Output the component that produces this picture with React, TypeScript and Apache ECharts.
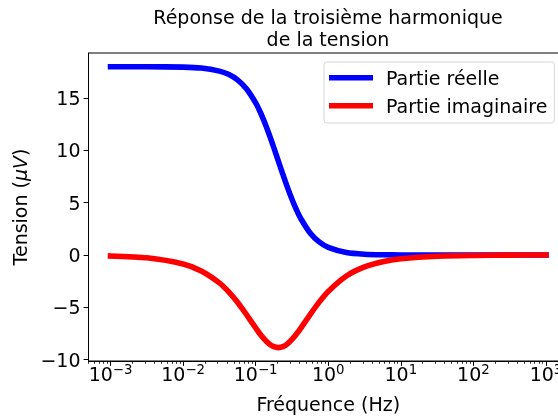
import React, { useEffect, useRef } from "react";
import * as echarts from "echarts";

const titleLines = ["Réponse de la troisième harmonique", "de la tension"];
const seriesNames = ["Partie réelle", "Partie imaginaire"];
const xAxisName = "Fréquence (Hz)";
const yAxisName = "Tension ({i|μV})";

// Frequencies (Hz) where the curves were read
const frequencies = [
  0.001, 0.00316, 0.01, 0.0178, 0.0316, 0.0422, 0.0562, 0.075, 0.1, 0.1155,
  0.1334, 0.154, 0.1778, 0.2054, 0.2371, 0.274, 0.3162, 0.365, 0.4217, 0.5623,
  0.75, 1, 1.778, 3.162, 5.623, 10, 31.6, 100, 316, 1000,
];
const realPart = [
  18.0, 18.0, 17.96, 17.87, 17.58, 17.27, 16.74, 15.87, 14.54, 13.67,
  12.64, 11.5, 10.27, 8.98, 7.7, 6.46, 5.33, 4.31, 3.44, 2.11,
  1.25, 0.73, 0.24, 0.075, 0.024, 0.008, 0.0, 0.0, 0.0, 0.0,
];
const imagPart = [
  -0.09, -0.27, -0.86, -1.52, -2.66, -3.5, -4.51, -5.71, -6.97, -7.57,
  -8.09, -8.5, -8.76, -8.85, -8.76, -8.49, -8.07, -7.55, -6.96, -5.69,
  -4.5, -3.48, -2.01, -1.14, -0.64, -0.36, -0.11, -0.04, -0.01, 0.0,
];

const xTickValues = [0.001, 0.01, 0.1, 1, 10, 100, 1000];
const xTickExponents = ["−3", "−2", "−1", "0", "1", "2", "3"];
const yTickValues = [-10, -5, 0, 5, 10, 15];
const yTickLabels = ["−10", "−5", "0", "5", "10", "15"];

export default function App() {
  const ref = useRef<HTMLDivElement>(null);
  useEffect(() => {
    document.body.style.overflow = "hidden";
    const chart = echarts.init(ref.current!, null, { renderer: "svg" });
    const font = "DejaVu Sans";
    const fs = 19;
    const minorTicks: number[] = [];
    for (let k = -4; k <= 3; k++) {
      for (let m = 2; m <= 9; m++) minorTicks.push(m * Math.pow(10, k));
    }
    const xMin = Math.pow(10, -3.3035);
    const xMax = Math.pow(10, 3.3035);
    chart.setOption({
      animation: false,
      textStyle: { fontFamily: font },
      title: {
        text: titleLines.join("\n"),
        left: 328,
        top: 6,
        textAlign: "center",
        padding: 0,
        textStyle: {
          fontSize: fs,
          fontWeight: "normal",
          color: "#000",
          lineHeight: 22,
          fontFamily: font,
        },
      },
      legend: {
        orient: "vertical",
        left: 324,
        top: 62,
        padding: [6.2, 7, 7.8, 5],
        itemWidth: 44,
        itemHeight: 5.5,
        itemGap: 9,
        icon: "rect",
        backgroundColor: "rgba(255,255,255,0.8)",
        borderColor: "#d6d6d6",
        borderWidth: 1,
        borderRadius: 3,
        textStyle: {
          fontSize: fs,
          lineHeight: 19,
          color: "#000",
          fontFamily: font,
          padding: [0, 0, 0, 8],
        },
        data: seriesNames,
      },
      grid: {
        left: 88.5,
        top: 53,
        width: 479.5,
        height: 308,
        show: true,
        borderColor: "#000",
        borderWidth: 1,
        containLabel: false,
        outerBoundsMode: "none",
      },
      xAxis: [
        {
          type: "log",
          logBase: 10,
          min: xMin,
          max: xMax,
          gridIndex: 0,
          position: "bottom",
          axisLine: { show: true, onZero: false, lineStyle: { color: "#000", width: 1 } },
          axisTick: {
            show: true,
            inside: false,
            length: 4.9,
            lineStyle: { color: "#000", width: 1 },
            customValues: xTickValues,
          },
          axisLabel: {
            customValues: xTickValues,
            margin: 2,
            color: "#000",
            formatter: (v: number) => {
              const i = Math.round(Math.log10(v)) + 3;
              return "{b|10}{s|" + (xTickExponents[i] ?? "") + "}";
            },
            rich: {
              b: {
                fontSize: fs,
                lineHeight: 20,
                padding: [7, 0, 0, 0],
                verticalAlign: "bottom",
                color: "#000",
                fontFamily: font,
              },
              s: {
                fontSize: 13.3,
                lineHeight: 14,
                verticalAlign: "top",
                color: "#000",
                fontFamily: font,
              },
            },
          },
          splitLine: { show: false },
          minorTick: { show: false },
          minorSplitLine: { show: false },
          name: xAxisName,
          nameLocation: "middle",
          nameGap: 33,
          nameTextStyle: { fontSize: fs, color: "#000", fontFamily: font },
        },
        {
          type: "log",
          logBase: 10,
          min: xMin,
          max: xMax,
          gridIndex: 0,
          position: "bottom",
          axisLine: { show: false, onZero: false },
          axisTick: {
            show: true,
            inside: false,
            length: 2.8,
            lineStyle: { color: "#000", width: 0.8 },
            customValues: minorTicks,
          },
          axisLabel: { show: false },
          splitLine: { show: false },
        },
      ],
      yAxis: {
        type: "value",
        min: -10.13,
        max: 19.31,
        axisLine: { show: true, onZero: false, lineStyle: { color: "#000", width: 1 } },
        axisTick: {
          show: true,
          inside: false,
          length: 4.9,
          lineStyle: { color: "#000", width: 1 },
          customValues: yTickValues,
        },
        axisLabel: {
          customValues: yTickValues,
          margin: 8,
          fontSize: fs,
          color: "#000",
          fontFamily: font,
          formatter: (v: number) => {
            const i = yTickValues.indexOf(Math.round(v));
            return i >= 0 ? yTickLabels[i] : "";
          },
        },
        splitLine: { show: false },
        name: yAxisName,
        nameLocation: "middle",
        nameRotate: 90,
        nameGap: 50,
        nameTextStyle: {
          fontSize: fs,
          color: "#000",
          fontFamily: font,
          rich: {
            i: { fontSize: fs, fontStyle: "italic", color: "#000", fontFamily: font },
          },
        },
      },
      series: [
        {
          type: "line",
          name: seriesNames[0],
          xAxisIndex: 0,
          yAxisIndex: 0,
          data: frequencies.map((f, i) => [f, realPart[i]]),
          showSymbol: false,
          symbol: "none",
          smooth: 0.2,
          lineStyle: { color: "#0000ff", width: 5.56, cap: "square", join: "round" },
          itemStyle: { color: "#0000ff" },
        },
        {
          type: "line",
          name: seriesNames[1],
          xAxisIndex: 0,
          yAxisIndex: 0,
          data: frequencies.map((f, i) => [f, imagPart[i]]),
          showSymbol: false,
          symbol: "none",
          smooth: 0.2,
          lineStyle: { color: "#ff0000", width: 5.56, cap: "square", join: "round" },
          itemStyle: { color: "#ff0000" },
        },
      ],
    });
    return () => chart.dispose();
  }, []);
  return (
    <div
      ref={ref}
      style={{ position: "fixed", left: 0, top: 0, width: 580, height: 416 }}
    />
  );
}
